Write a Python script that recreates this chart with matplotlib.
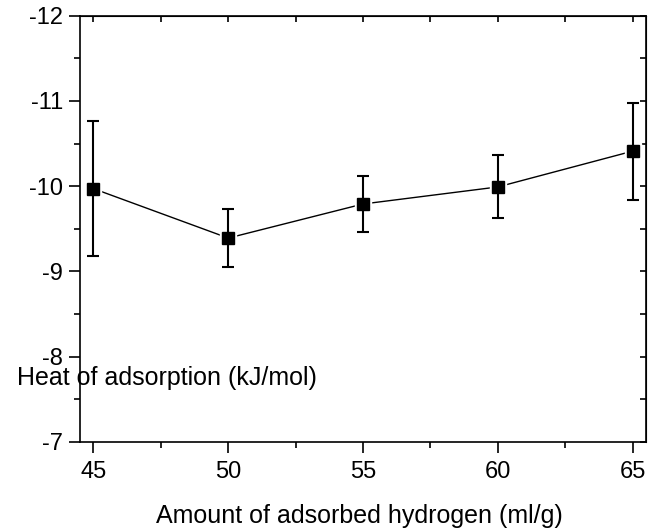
import numpy as np
import matplotlib.pyplot as plt

plt.rcParams['font.family'] = ['Liberation Sans', 'DejaVu Sans']

amount = [45, 50, 55, 60, 65]
heat = [-9.97, -9.39, -9.79, -9.99, -10.41]
err = [0.79, 0.34, 0.33, 0.37, 0.57]


def main():
    fig = plt.figure(figsize=(6.58, 5.30), dpi=100)
    ax = fig.add_axes([80 / 658, 88.3 / 530, 566 / 658, 426 / 530])

    # connecting line with small gaps round the markers
    ax.plot(amount, heat, color='black', lw=1.0, zorder=1)
    ax.plot(amount, heat, 's', ms=11, color='white', mec='white', zorder=2)
    ax.errorbar(amount, heat, yerr=err, fmt='none', ecolor='black',
                elinewidth=1.5, capsize=4, capthick=1.5, zorder=3)
    ax.plot(amount, heat, 's', ms=8.5, color='black', zorder=4)

    ax.set_xlim(44.5, 65.5)
    ax.set_ylim(-7, -12)
    ax.set_xticks([45, 50, 55, 60, 65])
    ax.set_xticks(np.arange(47.5, 65, 5), minor=True)
    ax.set_yticks([-7, -8, -9, -10, -11, -12])
    ax.set_yticklabels(['-7', '-8', '-9', '-10', '-11', '-12'])
    ax.set_yticks(np.arange(-11.5, -7, 1), minor=True)

    for s in ax.spines.values():
        s.set_linewidth(1.2)
    ax.tick_params(which='both', direction='out', labelsize=17, width=1.2)
    ax.tick_params(which='major', length=8)
    ax.tick_params(which='minor', length=4)
    ax.tick_params(axis='x', which='major', pad=6)
    ax.tick_params(axis='y', which='major', pad=4)

    # top and right ticks point inwards
    top = ax.secondary_xaxis('top')
    top.set_xticks([45, 50, 55, 60, 65])
    top.set_xticks(np.arange(47.5, 65, 5), minor=True)
    top.tick_params(which='both', direction='in', length=4, width=1.2,
                    labeltop=False)
    right = ax.secondary_yaxis('right')
    right.set_yticks([-7, -8, -9, -10, -11, -12])
    right.set_yticks(np.arange(-11.5, -7, 1), minor=True)
    right.tick_params(which='both', direction='in', length=4, width=1.2,
                      labelright=False)

    fig.text(17 / 658, (530 - 385) / 530, 'Heat of adsorption (kJ/mol)',
             fontsize=18, ha='left', va='baseline')
    fig.text(359 / 658, (530 - 523) / 530, 'Amount of adsorbed hydrogen (ml/g)',
             fontsize=18, ha='center', va='baseline')

    fig.savefig('out.png', dpi=100)


if __name__ == '__main__':
    main()
